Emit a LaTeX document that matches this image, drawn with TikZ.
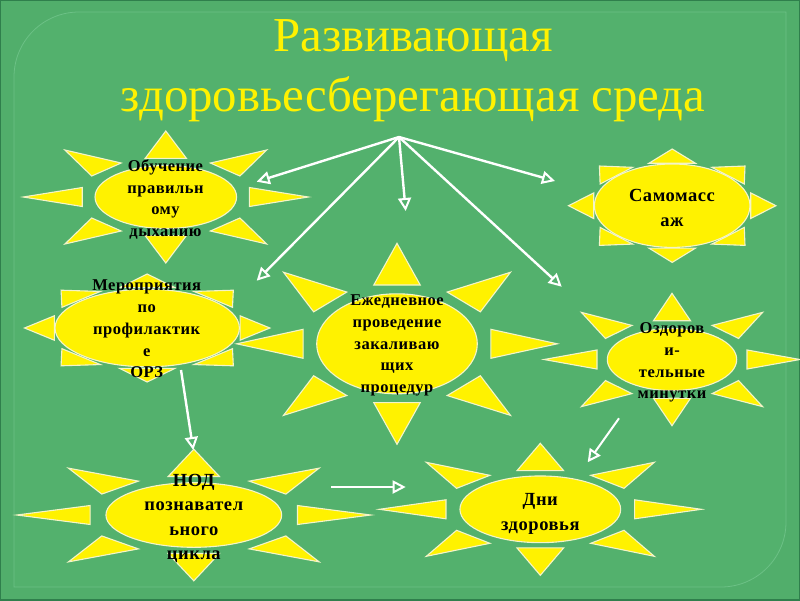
\documentclass[tikz,border=0pt]{standalone}
\usepackage{fontspec}
\usepackage{xcolor}
\usepackage{tikz}
\usetikzlibrary{arrows.meta,shapes.geometric}
\setmainfont{Liberation Serif}
\newfontfamily\sunfont[LetterSpace=3]{Liberation Serif}
\definecolor{slideEdge}{HTML}{2F7F4C}
\definecolor{slideBack}{HTML}{51AE6B}
\definecolor{panelBack}{HTML}{53B16D}
\definecolor{panelLine}{HTML}{6CC186}
\definecolor{rayLine}{HTML}{F4F4C8}

\begin{document}
\begin{tikzpicture}[
  x=1pt, y=-1pt,
  ray/.style={fill=yellow, draw=rayLine, line width=1.1pt, line join=miter},
  sunCore/.style={ellipse, fill=yellow, draw=rayLine, line width=1.1pt, inner sep=0pt},
  sunText/.style={align=center, inner sep=0pt, text=black, font=\sunfont\bfseries\fontsize{16.5}{21.7}\selectfont},
  sunTextBig/.style={sunText, font=\sunfont\bfseries\fontsize{18.5}{24.5}\selectfont},
  arrow/.style={-{Triangle[open, length=13pt, width=13pt, line width=2pt]}, line width=2.4pt, draw=white},
  thinArrow/.style={arrow, line width=2pt},
  raysThin/.pic={
    \draw[ray] (1,0) -- (.586,.144) -- (.586,-.144) -- cycle;
    \draw[ray] (-1,0) -- (-.586,.144) -- (-.586,-.144) -- cycle;
    \draw[ray] (0,1) -- (.145,.585) -- (-.145,.585) -- cycle;
    \draw[ray] (0,-1) -- (.145,-.585) -- (-.145,-.585) -- cycle;
    \draw[ray] (.313,.515) -- (.708,.712) -- (.52,.318) -- cycle;
    \draw[ray] (-.313,.515) -- (-.708,.712) -- (-.52,.318) -- cycle;
    \draw[ray] (.313,-.515) -- (.708,-.712) -- (.52,-.318) -- cycle;
    \draw[ray] (-.313,-.515) -- (-.708,-.712) -- (-.52,-.318) -- cycle;
  },
  raysWide/.pic={
    \draw[ray] (1,0) -- (.757,.226) -- (.757,-.226) -- cycle;
    \draw[ray] (-1,0) -- (-.757,.226) -- (-.757,-.226) -- cycle;
    \draw[ray] (0,1) -- (.225,.748) -- (-.225,.748) -- cycle;
    \draw[ray] (0,-1) -- (.225,-.748) -- (-.225,-.748) -- cycle;
    \draw[ray] (.381,.677) -- (.702,.70) -- (.695,.383) -- cycle;
    \draw[ray] (-.381,.677) -- (-.702,.70) -- (-.695,.383) -- cycle;
    \draw[ray] (.381,-.677) -- (.702,-.70) -- (.695,-.383) -- cycle;
    \draw[ray] (-.381,-.677) -- (-.702,-.70) -- (-.695,-.383) -- cycle;
  }
]
  \useasboundingbox (0,0) rectangle (800,600);
  \draw[fill=slideBack, draw=slideEdge, line width=2pt] (0,0) rectangle (800,600);
  \draw[fill=panelBack, draw=panelLine, line width=0.8pt]
    (14,587) [rounded corners=65pt] -- (14,12) [sharp corners] -- (786,12)
    [rounded corners=65pt] -- (786,587) [sharp corners] -- cycle;

  \node[align=center, text=yellow, inner sep=0pt, font=\fontsize{48.8}{60}\selectfont] (title) at (413,70.5)
    {Развивающая\\здоровьесберегающая среда};

  % sun centres
  \coordinate (breathingSun) at (165.8,197);
  \coordinate (massageSun) at (672.2,205.7);
  \coordinate (preventionSun) at (147.2,328);
  \coordinate (hardeningSun) at (397,343.8);
  \coordinate (breaksSun) at (672,359.5);
  \coordinate (lessonsSun) at (193.8,515);
  \coordinate (healthSun) at (540.3,509.3);

  % suns
  \pic[x=142.5pt, y=66pt] at (breathingSun) {raysThin};
  \node[sunCore, minimum width=141.6pt, minimum height=63pt] (breathing) at (breathingSun) {};
  \node[sunText] (breathingText) at (165.5,199.5) {Обучение\\правильн\\ому\\дыханию};

  \pic[x=103.7pt, y=56.7pt] at (massageSun) {raysWide};
  \node[sunCore, minimum width=155.6pt, minimum height=83.4pt] (massage) at (massageSun) {};
  \node[sunTextBig] (massageText) at (672,208) {Самомасс\\аж};

  \pic[x=122.7pt, y=54pt] at (preventionSun) {raysWide};
  \node[sunCore, minimum width=184.4pt, minimum height=77.6pt] (prevention) at (preventionSun) {};
  \node[sunText] (preventionText) at (146.7,329) {Мероприятия\\по\\профилактик\\е\\ОРЗ};

  \pic[x=160.3pt, y=100.5pt] at (hardeningSun) {raysThin};
  \node[sunCore, minimum width=160.6pt, minimum height=100pt] (hardening) at (hardeningSun) {};
  \node[sunText] (hardeningText) at (397,345.5) {Ежедневное\\проведение\\закаливаю\\щих\\процедур};

  \pic[x=128pt, y=66.2pt] at (breaksSun) {raysThin};
  \node[sunCore, minimum width=129.4pt, minimum height=62pt] (breaks) at (breaksSun) {};
  \node[sunText] (breaksText) at (672,362.5) {Оздоров\\и-\\тельные\\минутки};

  \pic[x=177pt, y=65.8pt] at (lessonsSun) {raysThin};
  \node[sunCore, minimum width=175.7pt, minimum height=64.6pt] (lessons) at (lessonsSun) {};
  \node[sunTextBig] (lessonsText) at (193.8,518.5) {НОД\\познавател\\ьного\\цикла};

  \pic[x=161pt, y=66pt] at (healthSun) {raysThin};
  \node[sunCore, minimum width=160.7pt, minimum height=66.7pt] (health) at (healthSun) {};
  \node[sunTextBig] (healthText) at (540.3,514) {Дни\\здоровья};

  % connectors
  \coordinate (hub) at (399,137);
  \coordinate (toBreathing) at (256.7,181.7);
  \coordinate (toPrevention) at (256.7,280.7);
  \coordinate (toHardening) at (405.7,211);
  \coordinate (toBreaks) at (561.7,286.7);
  \coordinate (toMassage) at (555,181);
  \coordinate (fromPrevention) at (181,370);
  \coordinate (toLessons) at (193.3,450);
  \coordinate (fromLessons) at (331,487);
  \coordinate (toHealth) at (405.7,487);
  \coordinate (fromBreaks) at (619,418.3);
  \coordinate (toHealthSide) at (587.7,462.3);

  \draw[arrow] (hub) -- (toBreathing);
  \draw[arrow] (hub) -- (toPrevention);
  \draw[arrow] (hub) -- (toHardening);
  \draw[arrow] (hub) -- (toBreaks);
  \draw[arrow] (hub) -- (toMassage);
  \draw[arrow] (fromPrevention) -- (toLessons);
  \draw[arrow] (fromLessons) -- (toHealth);
  \draw[thinArrow] (fromBreaks) -- (toHealthSide);
\end{tikzpicture}
\end{document}
